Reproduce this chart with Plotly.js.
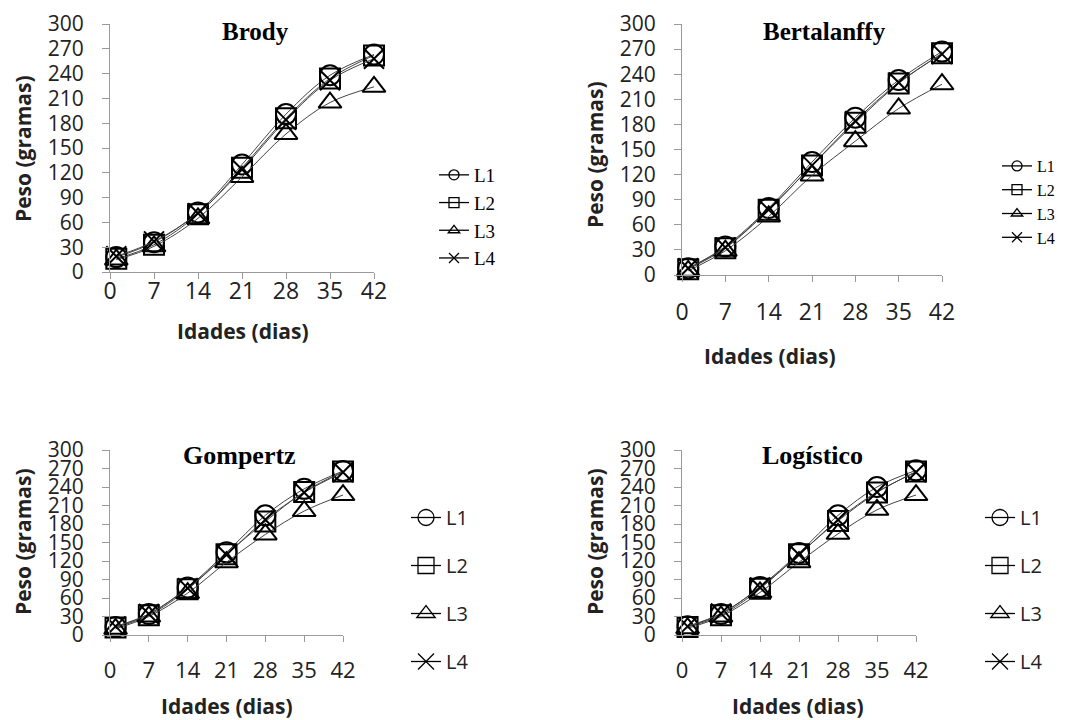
<!DOCTYPE html>
<html>
<head>
<meta charset="utf-8">
<script src="https://cdn.plot.ly/plotly-3.0.1.min.js"></script>
<style>html,body{margin:0;padding:0;background:#fff;}#chart{width:1068px;height:720px;}</style>
</head>
<body>
<div id="chart"></div>
<script>
// ---- data ----
const idades = [1, 7, 14, 21, 28, 35, 42];
const xTicks = [0, 7, 14, 21, 28, 35, 42];
const yTicks = [0, 30, 60, 90, 120, 150, 180, 210, 240, 270, 300];
const linhagens = ["L1", "L2", "L3", "L4"];
const modelos = ["Brody", "Bertalanffy", "Gompertz", "Logístico"];

const brodyL1 = [18, 36, 72, 130, 191, 238, 263];
const brodyL2 = [16, 33, 70, 126, 186, 234, 262];
const brodyL3 = [15, 31, 65, 115, 167, 205, 224];
const brodyL4 = [19, 37, 71, 124, 184, 232, 258];

const bertL1 = [8, 34, 80, 135, 188, 233, 267];
const bertL2 = [7, 32, 78, 131, 182, 229, 265];
const bertL3 = [5, 29, 70, 119, 160, 199, 228];
const bertL4 = [8, 33, 78, 131, 184, 230, 264];

const gompL1 = [13, 34, 77, 134, 194, 237, 266];
const gompL2 = [12, 32, 74, 131, 184, 232, 265];
const gompL3 = [10, 30, 68, 118, 163, 201, 227];
const gompL4 = [14, 34, 76, 130, 187, 231, 264];

const logL1 = [14, 34, 78, 133, 194, 240, 267];
const logL2 = [13, 32, 75, 131, 185, 231, 265];
const logL3 = [11, 30, 69, 118, 164, 203, 227];
const logL4 = [14, 35, 77, 130, 187, 232, 264];

const seriesPorModelo = [
  [brodyL1, brodyL2, brodyL3, brodyL4],
  [bertL1, bertL2, bertL3, bertL4],
  [gompL1, gompL2, gompL3, gompL4],
  [logL1, logL2, logL3, logL4]
];

// ---- styling ----
const symbols = ["circle-open", "square-open", "triangle-up-open", "x-thin-open"];
const SANS = "Open Sans";
const SERIF = "Liberation Serif";
const W = 1068, H = 720;
const px = v => v / W;
const py = v => 1 - v / H;

// panel geometry (pixels)
const panels = [
  {x0: 110, x1: 374, yTop: 24, yBot: 272, yTickFont: 21, xTickFont: 23, xStand: -8, yStand: 14,
   title: [255, 32, 25], ytitle: [23, 149], xtitle: [243, 331],
   legend: {left: 434, top: 156, font: {family: SERIF, size: 19, color: "#000"}, gap: 0, msize: 10}},
  {x0: 682, x1: 942, yTop: 24, yBot: 275, yTickFont: 21, xTickFont: 23, xStand: 10, yStand: 14,
   title: [824, 32, 25], ytitle: [595, 155], xtitle: [770, 356],
   legend: {left: 997, top: 149, font: {family: SERIF, size: 16, color: "#000"}, gap: 0, msize: 10}},
  {x0: 110, x1: 343, yTop: 450, yBot: 635, yTickFont: 21, xTickFont: 22, xStand: 10, yStand: 14,
   title: [239, 455, 26], ytitle: [23, 542], xtitle: [227, 706],
   legend: {left: 406, top: 498, font: {family: SANS, size: 20, color: "#222"}, gap: 19, msize: 16}},
  {x0: 682, x1: 916, yTop: 450, yBot: 635, yTickFont: 21, xTickFont: 22, xStand: 10, yStand: 14,
   title: [812, 455, 26], ytitle: [595, 542], xtitle: [798, 706],
   legend: {left: 980, top: 498, font: {family: SANS, size: 20, color: "#222"}, gap: 19, msize: 16}}
];

const traces = [];
const layout = {
  width: W, height: H,
  margin: {l: 0, r: 0, t: 0, b: 0},
  paper_bgcolor: "#fff", plot_bgcolor: "rgba(0,0,0,0)",
  annotations: [],
  showlegend: true
};

panels.forEach((p, i) => {
  const n = i === 0 ? "" : String(i + 1);
  const xa = "x" + n, ya = "y" + n;
  const legName = "legend" + n;
  const series = seriesPorModelo[i];
  series.forEach((vals, s) => {
    traces.push({
      type: "scatter", mode: "lines+markers",
      x: idades, y: vals, xaxis: xa, yaxis: ya,
      name: linhagens[s], showlegend: false, cliponaxis: false,
      line: {color: "#444", width: 1, shape: "spline", smoothing: 1},
      marker: {symbol: symbols[s], size: 20, color: "#000", line: {color: "#000", width: 2}},
      hoverinfo: "x+y+name"
    });
  });
  // legend entries
  linhagens.forEach((lab, s) => {
    traces.push({
      type: "scatter", mode: "lines+markers",
      x: [null], y: [null], xaxis: xa, yaxis: ya,
      name: lab, legend: legName, legendgroup: "g" + i + "_" + s, showlegend: true,
      line: {color: "#000", width: 1.3},
      marker: {symbol: symbols[s], size: p.legend.msize, color: "#000", line: {color: "#000", width: 1.3}}
    });
  });

  const axisCommon = {
    showgrid: false, zeroline: false, showline: true,
    linecolor: "#9a9a9a", linewidth: 1,
    ticks: "outside", tickcolor: "#9a9a9a", tickwidth: 1,
    fixedrange: true
  };
  layout["xaxis" + n] = Object.assign({}, axisCommon, {
    domain: [px(p.x0), px(p.x1)], anchor: ya, range: [0, 42],
    tickmode: "array", tickvals: xTicks, ticktext: xTicks.map(String),
    ticklen: 6, ticklabelstandoff: p.xStand,
    tickfont: {family: SANS, size: p.xTickFont, color: "#222"}
  });
  layout["yaxis" + n] = Object.assign({}, axisCommon, {
    domain: [py(p.yBot), py(p.yTop)], anchor: xa, range: [0, 300],
    tickmode: "array", tickvals: yTicks, ticktext: yTicks.map(String),
    ticklen: 7, ticklabelstandoff: p.yStand,
    tickfont: {family: SANS, size: p.yTickFont, color: "#222"}
  });
  layout[legName] = {
    x: px(p.legend.left), y: py(p.legend.top), xanchor: "left", yanchor: "top",
    xref: "paper", yref: "paper",
    bgcolor: "rgba(0,0,0,0)", borderwidth: 0,
    font: p.legend.font, tracegroupgap: p.legend.gap, orientation: "v",
    itemclick: false, itemdoubleclick: false
  };
  layout.annotations.push({
    text: "<b>" + modelos[i] + "</b>", xref: "paper", yref: "paper",
    x: px(p.title[0]), y: py(p.title[1]), xanchor: "center", yanchor: "middle",
    showarrow: false, font: {family: SERIF, size: p.title[2], color: "#000"}
  });
  layout.annotations.push({
    text: "<b>Peso (gramas)</b>", xref: "paper", yref: "paper", textangle: -90,
    x: px(p.ytitle[0]), y: py(p.ytitle[1]), xanchor: "center", yanchor: "middle",
    showarrow: false, font: {family: SANS, size: 21, color: "#222"}
  });
  layout.annotations.push({
    text: "<b>Idades (dias)</b>", xref: "paper", yref: "paper",
    x: px(p.xtitle[0]), y: py(p.xtitle[1]), xanchor: "center", yanchor: "middle",
    showarrow: false, font: {family: SANS, size: 21, color: "#222"}
  });
});

Plotly.newPlot("chart", traces, layout, {displayModeBar: false, staticPlot: true});
</script>
</body>
</html>
